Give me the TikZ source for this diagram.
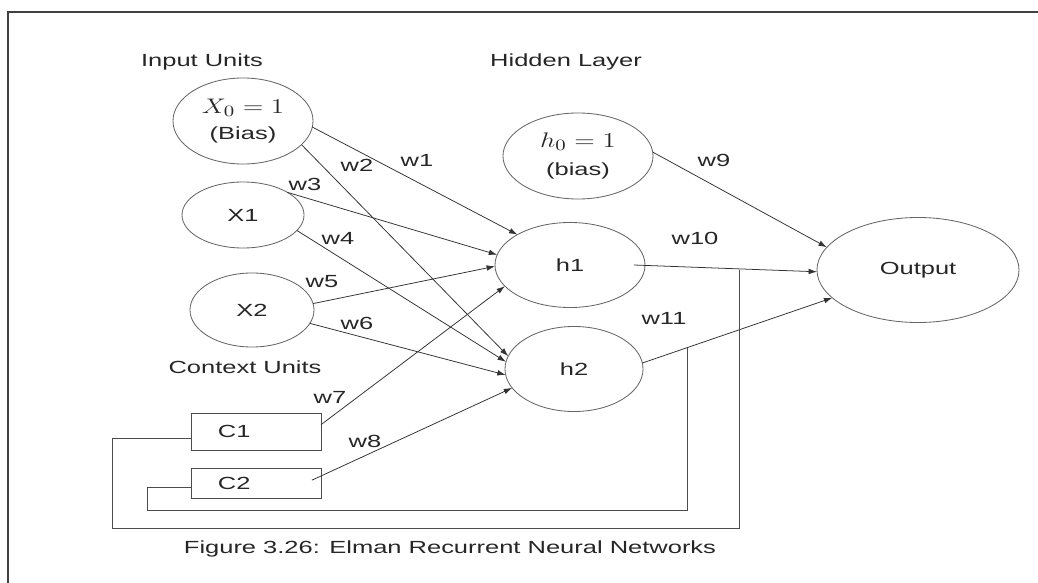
\documentclass[tikz,border=0pt]{standalone}
\usepackage{fontspec}
\setmainfont[FakeStretch=1.45]{Liberation Sans}
\usetikzlibrary{arrows.meta,shapes.geometric}

\tikzset{
  unit/.style={ellipse,draw=black!60,line width=0.6pt,inner sep=0pt,outer sep=0pt,align=center},
  ctx/.style={rectangle,draw=black!70,line width=0.6pt,minimum width=3.25cm,inner xsep=0.675cm,text width=1.9cm,align=left,outer sep=0pt},
  wire/.style={draw=black!80,line width=0.55pt,-{Latex[length=6pt,width=4pt]}},
  loopline/.style={draw=black!70,line width=0.6pt},
  wt/.style={inner sep=1pt}
}
\newcommand{\wmath}[1]{\scalebox{1.6}[1.25]{$#1$}}

\begin{document}
\begin{tikzpicture}[x=0.025cm,y=-0.025cm,font=\fontsize{12.5}{18}\selectfont,text=black!85]
  \useasboundingbox (0,0) rectangle (1038,583);
  \draw[black!75,line width=0.9pt] (1038,12) -- (8,12) -- (8,583);

  % headings
  \node (inlab) at (202,62) {Input Units};
  \node (hidlab) at (566,62) {Hidden Layer};
  \node (ctxlab) at (245,367) {Context Units};

  % input units
  \node[unit,minimum width=3.5cm,minimum height=2.15cm] (x0) at (243,121) {\wmath{X_0=1}\\(Bias)};
  \node[unit,minimum width=3.05cm,minimum height=1.65cm] (x1) at (243,215) {X1};
  \node[unit,minimum width=3.1cm,minimum height=1.85cm] (x2) at (252,310) {X2};

  % context units
  \node[ctx,minimum height=0.925cm] (c1) at (256,431.5) {C1};
  \node[ctx,minimum height=0.75cm] (c2) at (256,483) {C2};

  % hidden layer and output
  \node[unit,minimum width=3.75cm,minimum height=2.15cm] (h0) at (578,156) {\wmath{h_0=1}\\[2pt](bias)};
  \node[unit,minimum width=3.75cm,minimum height=2.125cm] (h1) at (570,265) {h1};
  \node[unit,minimum width=3.45cm,minimum height=2.125cm] (h2) at (574,369) {h2};
  \node[unit,minimum width=5.05cm,minimum height=2.625cm] (out) at (918,270) {Output};

  % weights
  \draw[wire] (x0.-5) -- (h1.150);
  \draw[wire] (x0.-22) -- (h2.169);
  \draw[wire] (x1.27) -- (h1.172);
  \draw[wire] (x1.-16) -- (h2.174);
  \draw[wire] (x2.6) -- (h1.181);
  \draw[wire] (x2.-13) -- (h2.185);
  \draw[wire] (c1.6) -- (h1.198);
  \draw[wire] ([xshift=-6.5pt,yshift=2pt]c2.east) -- (h2.197);
  \draw[wire] (h0.3) -- (out.166);
  \draw[wire] ([xshift=-8pt]h1.east) -- (out.181);
  \draw[wire] (h2.5) -- (out.198);

  % copy back to the context units
  \coordinate (tap1) at (739,270);
  \coordinate (tap2) at (687,348);
  \draw[loopline] (tap1) |- (112,528) |- (c1.186);
  \draw[loopline] (tap2) |- (147,510) |- (c2.184);

  \node[wt] (lw1) at (417,160) {w1};
  \node[wt] (lw2) at (357,165) {w2};
  \node[wt] (lw3) at (305,184) {w3};
  \node[wt] (lw4) at (338,238) {w4};
  \node[wt] (lw5) at (322,282) {w5};
  \node[wt] (lw6) at (357,323) {w6};
  \node[wt] (lw7) at (330,397) {w7};
  \node[wt] (lw8) at (365,441) {w8};
  \node[wt] (lw9) at (714,160) {w9};
  \node[wt] (lw10) at (695,238) {w10};
  \node[wt] (lw11) at (664,318) {w11};

  \node (cap) at (450,549) {Figure 3.26: Elman Recurrent Neural Networks};
\end{tikzpicture}
\end{document}
